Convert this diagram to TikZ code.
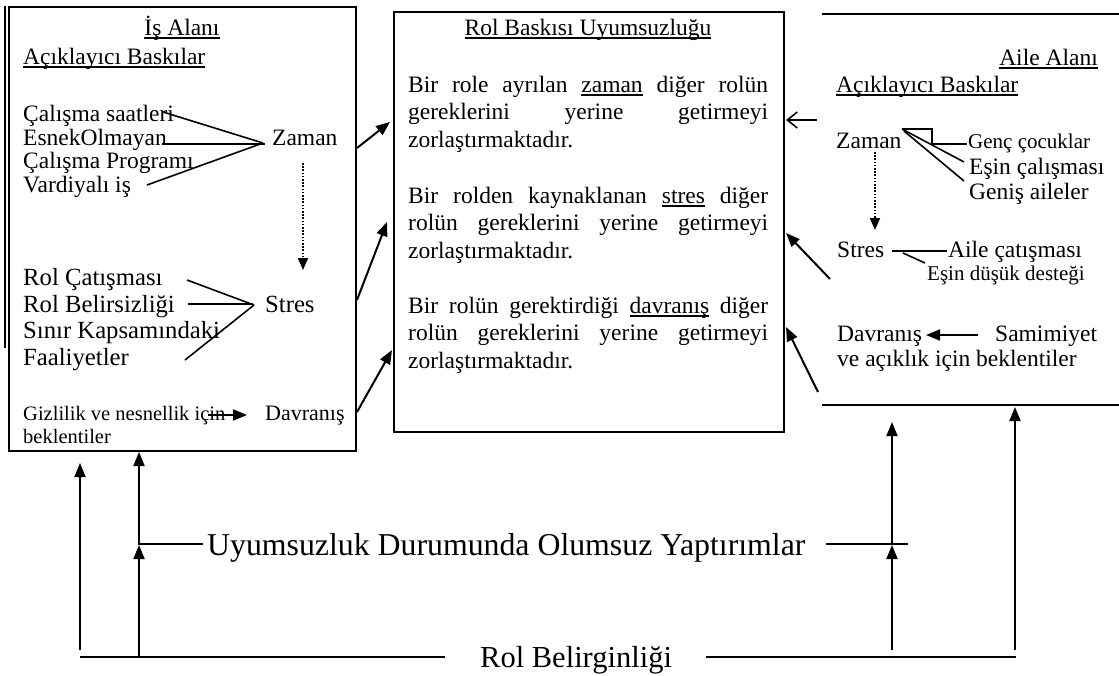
\documentclass[tikz,border=0pt]{standalone}
\usepackage{fontspec}
\setmainfont{Liberation Serif}
\usetikzlibrary{arrows.meta}
\newcommand{\fsN}{\fontsize{23.5}{27.5}\selectfont}
\newcommand{\fsL}{\fontsize{24.7}{28}\selectfont}
\newcommand{\fsS}{\fontsize{21}{24}\selectfont}
\newcommand{\fsT}{\fontsize{20.5}{23}\selectfont}
\newcommand{\myul}[1]{\setbox0\hbox{#1}\rlap{\rule[-3.5pt]{\wd0}{1.4pt}}\box0\relax}
\newcommand{\jline}[1]{\makebox[360pt][s]{#1}}
\tikzset{
  boxline/.style={line width=2pt},
  conn/.style={line width=2pt, -{Triangle[length=14pt,width=11pt]}},
  fan/.style={line width=1.6pt},
  dotarrow/.style={line width=1.8pt, dash pattern=on 1.6pt off 1.6pt, -{Triangle[length=12pt,width=10pt]}},
  txt/.style={inner sep=0pt, anchor=base west, font=\fsN},
  area/.style={draw, line width=2pt, inner sep=0pt, outer sep=0pt}
}
\begin{document}
\begin{tikzpicture}[x=1pt,y=-1pt]
\useasboundingbox (0,0) rectangle (1119,675);
% ---------- boxes ----------
\node[area, minimum width=347pt, minimum height=444pt] (work) at (182.5,229) {};
\draw[boxline] (4.5,6) -- (4.5,348);
\node[area, minimum width=390pt, minimum height=420pt] (center) at (589,222) {};
\coordinate (famTL) at (822,14);
\coordinate (famTR) at (1119,14);
\coordinate (famBL) at (822,405);
\coordinate (famBR) at (1119,405);
\draw[boxline] (famTL) -- (famTR);
\draw[boxline] (famBL) -- (famBR);

% ---------- work domain ----------
\node[txt, anchor=base] (wtitle) at (182,35) {\myul{İş Alanı}};
\node[txt] (wsub) at (23,64) {\myul{Açıklayıcı Baskılar}};
\node[txt] (w1) at (23,121) {Çalışma saatleri};
\node[txt] (w2) at (23,145) {EsnekOlmayan};
\node[txt] (w3) at (23,168) {Çalışma Programı};
\node[txt] (w4) at (23,192) {Vardiyalı iş};
\node[txt] (wzaman) at (272,145) {Zaman};
\coordinate (wzj) at (263,143);
\coordinate (w1e) at (163,112);
\coordinate (w2e) at (162,144);
\coordinate (w3e) at (147,185);
\draw[fan] (w1e) -- (wzj);
\draw[fan] (w2e) -- (265,144);
\draw[fan] (w3e) -- (wzj);
\coordinate (wdot1) at (303,163);
\coordinate (wdot2) at (303,270);
\draw[dotarrow] (wdot1) -- (wdot2);
\node[txt, font=\fsL] (s1) at (23,285) {Rol Çatışması};
\node[txt, font=\fsL] (s2) at (23,312) {Rol Belirsizliği};
\node[txt, font=\fsL] (s3) at (23,338) {Sınır Kapsamındaki};
\node[txt, font=\fsL] (s4) at (23,365) {Faaliyetler};
\node[txt, font=\fsL] (wstres) at (265,312) {Stres};
\coordinate (wsj) at (254,305);
\draw[fan] (187,280) -- (wsj);
\draw[fan] (188,304) -- (253,304);
\draw[fan] (185,360) -- (wsj);
\node[txt, font=\fsT] (g1) at (23,420) {Gizlilik ve nesnellik için};
\node[txt, font=\fsT] (g2) at (23,443) {beklentiler};
\node[txt, font=\fontsize{22}{25}\selectfont] (wdav) at (265,420) {Davranış};
\coordinate (gA) at (208,415);
\coordinate (gB) at (247,415);
\draw[conn] (gA) -- (gB);

% ---------- centre ----------
\node[txt, anchor=base] (ctitle) at (588,35) {\myul{Rol Baskısı Uyumsuzluğu}};
\node[txt] (p1) at (408,92) {\parbox[t]{360pt}{\jline{Bir role ayrılan \myul{zaman} diğer rolün}\\
\jline{gereklerini yerine getirmeyi}\\
zorlaştırmaktadır.}};
\node[txt] (p2) at (408,203) {\parbox[t]{360pt}{\jline{Bir rolden kaynaklanan \myul{stres} diğer}\\
\jline{rolün gereklerini yerine getirmeyi}\\
zorlaştırmaktadır.}};
\node[txt] (p3) at (408,313) {\parbox[t]{360pt}{\jline{Bir rolün gerektirdiği \myul{davranış} diğer}\\
\jline{rolün gereklerini yerine getirmeyi}\\
zorlaştırmaktadır.}};

% arrows work -> centre
\coordinate (a1s) at (357,148);
\coordinate (a1e) at (390,122);
\coordinate (a2s) at (357,300);
\coordinate (a2e) at (387,222);
\coordinate (a3s) at (357,412);
\coordinate (a3e) at (392,350);
\draw[conn] (a1s) -- (a1e);
\draw[conn] (a2s) -- (a2e);
\draw[conn] (a3s) -- (a3e);

% ---------- family domain ----------
\node[txt, anchor=base east] (ftitle) at (1098,65) {\myul{Aile Alanı}};
\node[txt] (fsub) at (836,92) {\myul{Açıklayıcı Baskılar}};
\node[txt] (fzaman) at (836,148) {Zaman};
\node[txt, font=\fsS] (f1) at (968,148) {Genç çocuklar};
\node[txt] (f2) at (969,174) {Eşin çalışması};
\node[txt] (f3) at (969,199) {Geniş aileler};
\coordinate (fzj) at (902,129);
\draw[fan] (fzj) -- (932,129) -- (932,144) -- (967,144);
\draw[fan] (fzj) -- (964,162);
\draw[fan] (904,131) -- (964,181);
\coordinate (fdot1) at (875,152);
\coordinate (fdot2) at (875,230);
\draw[dotarrow] (fdot1) -- (fdot2);
\node[txt] (fstres) at (837,257) {Stres};
\node[txt] (f4) at (948,257) {Aile çatışması};
\node[txt, font=\fsS] (f5) at (927,280) {Eşin düşük desteği};
\draw[fan] (892,251) -- (947,251);
\draw[fan] (903,253) -- (925,263);
\node[txt] (fdav) at (837,341) {Davranış};
\node[txt] (f6) at (995,341) {Samimiyet};
\node[txt] (f7) at (837,366) {ve açıklık için beklentiler};
\coordinate (samS) at (978,335);
\coordinate (samE) at (926,335);
\draw[conn] (samS) -- (samE);

% arrows family -> centre
\coordinate (b1s) at (817,120);
\coordinate (b1e) at (786,120);
\draw[line width=1.6pt, -{Straight Barb[length=10pt,width=16pt]}] (b1s) -- (b1e);
\coordinate (b2s) at (830,279);
\coordinate (b2e) at (786,233);
\coordinate (b3s) at (818,392);
\coordinate (b3e) at (786,327);
\draw[conn] (b2s) -- (b2e);
\draw[conn] (b3s) -- (b3e);

% ---------- bottom ----------
\node[txt, font=\fontsize{31.8}{36}\selectfont] (sanc) at (207,555) {Uyumsuzluk Durumunda Olumsuz Yaptırımlar};
\node[txt, font=\fontsize{30.5}{35}\selectfont] (sal) at (480,667) {Rol Belirginliği};
\coordinate (L1b) at (80,650);
\coordinate (L1t) at (80,463);
\coordinate (L2b) at (139,657);
\coordinate (L2m) at (139,545);
\coordinate (L2t) at (139,452);
\coordinate (R1b) at (892,650);
\coordinate (R1m) at (892,545);
\coordinate (R1t) at (892,422);
\coordinate (R2b) at (1015,650);
\coordinate (R2t) at (1015,407);
\draw[conn] (L1b) -- (L1t);
\draw[conn] (L2b) -- (L2m);
\draw[conn] (L2m) -- (L2t);
\draw[conn] (R1b) -- (R1m);
\draw[conn] (R1m) -- (R1t);
\draw[conn] (R2b) -- (R2t);
\draw[boxline] (139,544) -- (203,544);
\draw[boxline] (826,544) -- (908,544);
\draw[boxline] (80,657) -- (445,657);
\draw[boxline] (706,657) -- (1016,657);
\end{tikzpicture}
\end{document}
